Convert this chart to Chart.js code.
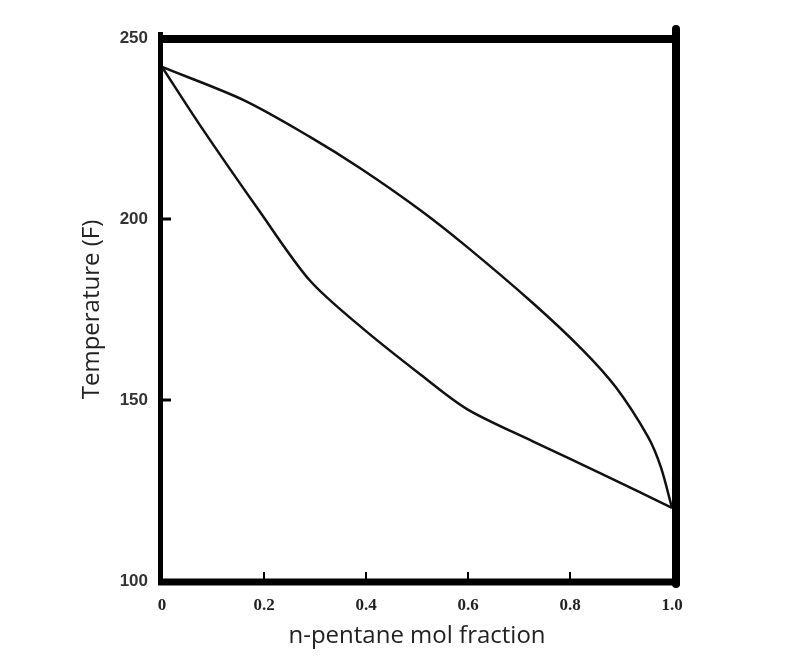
<!DOCTYPE html>
<html>
<head>
<meta charset="utf-8">
<script src="https://cdn.jsdelivr.net/npm/chart.js@4"></script>
<style>
  html, body { margin: 0; padding: 0; background: #fff; }
  canvas { display: block; }
</style>
</head>
<body>
<canvas id="chart" width="801" height="667"></canvas>
<script>
// dew point curve (upper) and bubble point curve (lower)
const dewX = [0, 0.159, 0.29, 0.388, 0.506, 0.598, 0.727, 0.825, 0.89, 0.953, 0.978, 1.0];
const dewT = [242, 232.9, 222.7, 214.1, 202.5, 192.3, 176.8, 163.8, 153.5, 139.8, 131.5, 120.2];
const bubbleX = [0, 0.075, 0.192, 0.29, 0.39, 0.508, 0.598, 0.727, 0.859, 1.0];
const bubbleT = [242, 225.8, 202, 183, 170.2, 156.9, 147.5, 138.6, 129.8, 120.2];

const xTicks = [0, 0.2, 0.4, 0.6, 0.8, 1.0];
const xTickLabels = ['0', '0.2', '0.4', '0.6', '0.8', '1.0'];
const yTicks = [100, 150, 200, 250];

const toPoints = (xs, ys) => xs.map((v, i) => ({ x: v, y: ys[i] }));

// thick frame + inward tick marks
const framePlugin = {
  id: 'frame',
  afterDatasetsDraw(chart) {
    const { ctx, chartArea: a, scales: { x, y } } = chart;
    const seg = (x1, y1, x2, y2, w) => {
      ctx.lineWidth = w;
      ctx.beginPath();
      ctx.moveTo(x1, y1);
      ctx.lineTo(x2, y2);
      ctx.stroke();
    };
    ctx.save();
    ctx.strokeStyle = '#000';
    ctx.lineCap = 'butt';
    seg(a.left - 1.5, a.top - 6, a.left - 1.5, a.bottom + 3, 5);
    seg(a.left - 4, a.top + 1, a.right + 8, a.top + 1, 8);
    seg(a.left - 4, a.bottom + 1, a.right + 8, a.bottom + 1, 7);
    ctx.lineCap = 'round';
    seg(a.right + 4, a.top - 9, a.right + 4, a.bottom + 3, 8);
    ctx.lineCap = 'butt';
    // inward ticks
    xTicks.slice(1, -1).forEach(v => {
      const px = x.getPixelForValue(v);
      seg(px, a.bottom - 2, px, a.bottom - 9, 2);
    });
    yTicks.slice(1, -1).forEach(v => {
      const py = y.getPixelForValue(v);
      seg(a.left, py, a.left + 9, py, 3);
    });
    ctx.restore();
  }
};

new Chart(document.getElementById('chart'), {
  type: 'line',
  data: {
    datasets: [
      {
        label: 'Dew point',
        data: toPoints(dewX, dewT),
        borderColor: '#111',
        borderWidth: 2.5,
        pointRadius: 0,
        fill: false,
        tension: 0.3
      },
      {
        label: 'Bubble point',
        data: toPoints(bubbleX, bubbleT),
        borderColor: '#111',
        borderWidth: 2.5,
        pointRadius: 0,
        fill: false,
        tension: 0.3
      }
    ]
  },
  options: {
    responsive: false,
    animation: false,
    layout: { padding: { top: 38, right: 129, left: 0, bottom: 0 } },
    plugins: {
      legend: { display: false },
      tooltip: { enabled: false }
    },
    scales: {
      x: {
        type: 'linear',
        min: 0,
        max: 1.0,
        afterFit: s => { s.height = 86; },
        afterBuildTicks: s => { s.ticks = xTicks.map(v => ({ value: v })); },
        grid: { display: false, drawTicks: false },
        border: { display: false },
        ticks: {
          padding: 14,
          color: '#222',
          font: { family: '"Liberation Serif", serif', size: 17, weight: 'bold' },
          callback: (v, i) => xTickLabels[i]
        },
        title: {
          display: true,
          text: 'n-pentane mol fraction',
          color: '#222',
          font: { family: '"Open Sans", sans-serif', size: 24 },
          padding: { top: 0, bottom: 16 }
        }
      },
      y: {
        min: 100,
        max: 250,
        afterFit: s => { s.width = 162; },
        afterBuildTicks: s => { s.ticks = yTicks.map(v => ({ value: v })); },
        grid: { display: false, drawTicks: false },
        border: { display: false },
        ticks: {
          padding: 14,
          color: '#333',
          font: { family: '"Liberation Sans Narrow", "Liberation Sans", sans-serif', size: 17, weight: 'bold' }
        },
        title: {
          display: true,
          text: 'Temperature (F)',
          color: '#222',
          font: { family: '"Open Sans", sans-serif', size: 24 },
          padding: { top: 78, bottom: 0 }
        }
      }
    }
  },
  plugins: [framePlugin]
});
</script>
</body>
</html>
